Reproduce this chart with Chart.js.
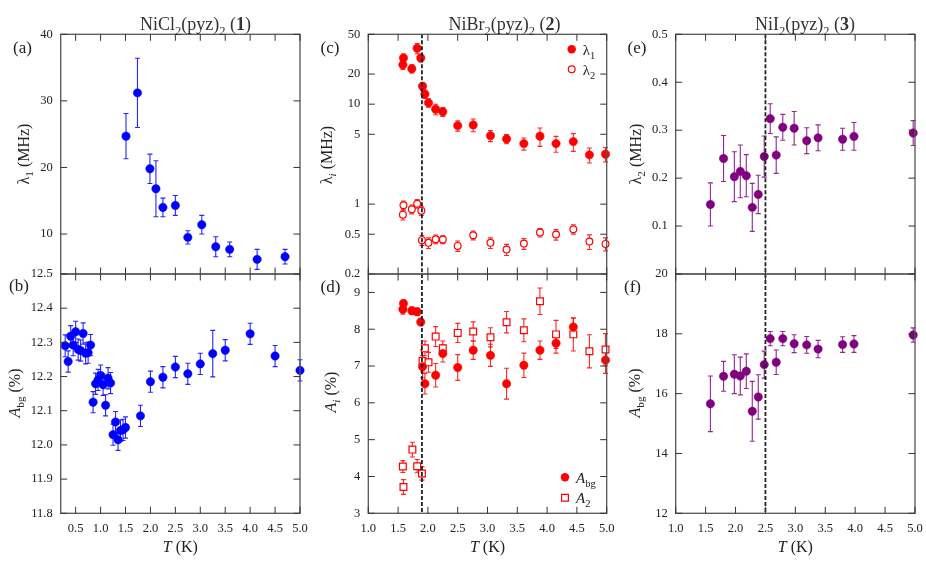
<!DOCTYPE html>
<html>
<head>
<meta charset="utf-8">
<script src="https://cdn.jsdelivr.net/npm/chart.js@4.4.0/dist/chart.umd.min.js"></script>
<style>
  html, body { margin: 0; padding: 0; background: #fff; }
  #wrap { position: relative; width: 926px; height: 567px; }
  #wrap canvas { position: absolute; left: 0; top: 0; }
</style>
</head>
<body>
<div id="wrap">
  <canvas id="pa" width="926" height="567"></canvas>
  <canvas id="pb" width="926" height="567"></canvas>
  <canvas id="pc" width="926" height="567"></canvas>
  <canvas id="pd" width="926" height="567"></canvas>
  <canvas id="pe" width="926" height="567"></canvas>
  <canvas id="pf" width="926" height="567"></canvas>
</div>
<script>
// ---- data ----
// (a) NiCl2(pyz)2 lambda1
const tA = [1.51, 1.74, 1.99, 2.11, 2.25, 2.5, 2.75, 3.03, 3.31, 3.59, 4.14, 4.7];
const lam1A = [24.7, 31.2, 19.8, 16.8, 14.0, 14.3, 9.5, 11.4, 8.1, 7.7, 6.2, 6.6];
const lam1AErr = [3.4, 5.2, 2.2, 4.2, 1.4, 1.5, 1.0, 1.4, 1.5, 1.1, 1.5, 1.1];

// (b) NiCl2(pyz)2 Abg
const tB = [0.29, 0.35, 0.4, 0.45, 0.5, 0.55, 0.6, 0.65, 0.7, 0.75, 0.8, 0.85, 0.9, 0.95, 1.0, 1.05, 1.1, 1.15, 1.2,
            1.25, 1.3, 1.35, 1.4, 1.45, 1.5, 1.8, 2.0, 2.25, 2.5, 2.75, 3.0, 3.25, 3.5, 4.0, 4.5, 5.0];
const abgB = [12.29, 12.244, 12.318, 12.292, 12.331, 12.279, 12.276, 12.326, 12.268, 12.27, 12.292, 12.125, 12.179,
              12.19, 12.203, 12.176, 12.116, 12.195, 12.181, 12.03, 12.067, 12.015, 12.042, 12.044, 12.051, 12.085,
              12.185, 12.198, 12.228, 12.208, 12.237, 12.267, 12.277, 12.325, 12.26, 12.218];
const abgBErr = [0.032, 0.031, 0.031, 0.031, 0.031, 0.031, 0.031, 0.031, 0.031, 0.031, 0.031, 0.031, 0.031, 0.031,
                 0.031, 0.031, 0.031, 0.031, 0.031, 0.031, 0.031, 0.031, 0.031, 0.031, 0.031, 0.031, 0.031, 0.031,
                 0.031, 0.031, 0.031, 0.068, 0.031, 0.031, 0.031, 0.031];

// (c) NiBr2(pyz)2 lambda1, lambda2
const tC1 = [1.58, 1.59, 1.73, 1.82, 1.88, 1.91, 1.95, 2.01, 2.13, 2.25, 2.5, 2.76, 3.05, 3.32, 3.61, 3.88, 4.15, 4.44, 4.71, 4.98];
const lam1C = [24.8, 29.0, 22.6, 36.2, 29.0, 15.1, 12.6, 10.3, 8.9, 8.4, 6.1, 6.2, 4.84, 4.49, 4.03, 4.78, 4.03, 4.22, 3.11, 3.16];
const lam1CErr = [2.5, 2.8, 2.1, 4.3, 2.5, 1.3, 1.2, 1.0, 1.07, 0.85, 0.73, 0.9, 0.62, 0.47, 0.56, 1.0, 0.73, 0.85, 0.53, 0.52];
const tC2 = [1.58, 1.59, 1.73, 1.82, 1.89, 1.9, 2.01, 2.13, 2.25, 2.5, 2.76, 3.05, 3.32, 3.61, 3.88, 4.15, 4.44, 4.71, 4.98];
const lam2C = [0.785, 0.975, 0.889, 1.01, 0.861, 0.436, 0.41, 0.446, 0.443, 0.382, 0.489, 0.41, 0.351, 0.403, 0.519, 0.496, 0.561, 0.422, 0.40];
const lam2CErr = [0.09, 0.1, 0.09, 0.1, 0.09, 0.05, 0.05, 0.045, 0.04, 0.045, 0.05, 0.05, 0.045, 0.05, 0.05, 0.06, 0.06, 0.07, 0.06];

// (d) NiBr2(pyz)2 Abg, A2
const tD1 = [1.58, 1.59, 1.73, 1.82, 1.88, 1.91, 1.95, 2.13, 2.25, 2.5, 2.76, 3.05, 3.32, 3.61, 3.88, 4.15, 4.44, 4.98];
const abgD = [8.54, 8.70, 8.50, 8.475, 8.195, 6.98, 6.52, 6.75, 7.34, 6.96, 7.43, 7.29, 6.52, 7.02, 7.43, 7.62, 8.06, 7.16];
const abgDErr = [0.13, 0.09, 0.1, 0.1, 0.1, 0.3, 0.28, 0.32, 0.23, 0.35, 0.25, 0.3, 0.42, 0.33, 0.25, 0.27, 0.24, 0.36];
const tD2 = [1.58, 1.59, 1.74, 1.82, 1.9, 1.91, 1.95, 2.01, 2.13, 2.25, 2.5, 2.76, 3.05, 3.32, 3.61, 3.88, 4.15, 4.44, 4.71, 4.98];
const a2D = [4.27, 3.715, 4.73, 4.28, 4.08, 7.14, 7.48, 7.1, 7.8, 7.48, 7.9, 7.94, 7.78, 8.19, 7.97, 8.76, 7.86, 7.86, 7.4, 7.45];
const a2DErr = [0.16, 0.2, 0.2, 0.18, 0.18, 0.3, 0.2, 0.27, 0.27, 0.2, 0.26, 0.26, 0.26, 0.29, 0.31, 0.36, 0.38, 0.45, 0.45, 0.43];

// (e), (f) NiI2(pyz)2
const tE = [1.58, 1.8, 1.98, 2.08, 2.18, 2.28, 2.38, 2.48, 2.58, 2.68, 2.79, 2.98, 3.19, 3.38, 3.79, 3.98, 4.97];
const lam2E = [0.145, 0.241, 0.203, 0.214, 0.205, 0.139, 0.166, 0.245, 0.324, 0.248, 0.306, 0.304, 0.278, 0.284, 0.281, 0.287, 0.294];
const lam2EErr = [0.045, 0.048, 0.052, 0.055, 0.044, 0.05, 0.04, 0.043, 0.031, 0.038, 0.027, 0.035, 0.027, 0.027, 0.023, 0.029, 0.026];
const abgF = [15.66, 16.58, 16.65, 16.59, 16.75, 15.41, 15.89, 16.97, 17.84, 17.05, 17.84, 17.67, 17.63, 17.49, 17.64, 17.66, 17.96];
const abgFErr = [0.93, 0.5, 0.65, 0.63, 0.58, 1.0, 0.74, 0.45, 0.24, 0.41, 0.24, 0.3, 0.28, 0.29, 0.26, 0.28, 0.24];

// transition temperatures (dashed lines)
const tcBr = 1.9;
const tcI = 2.5;

// tick values
const xTicks1 = [0.5, 1.0, 1.5, 2.0, 2.5, 3.0, 3.5, 4.0, 4.5, 5.0];
const xTicks2 = [1.0, 1.5, 2.0, 2.5, 3.0, 3.5, 4.0, 4.5, 5.0];
const yTicksA = [10, 20, 30, 40];
const yTicksB = [11.8, 11.9, 12.0, 12.1, 12.2, 12.3, 12.4, 12.5];
const yTicksC = [0.2, 0.5, 1, 5, 10, 20, 50];
const yTicksD = [3, 4, 5, 6, 7, 8, 9];
const yTicksE = [0.1, 0.2, 0.3, 0.4, 0.5];
const yTicksF = [12, 14, 16, 18, 20];

// ---- styling ----
const W = 926, H = 567;
const XH = 24; // height given to the x axis box (tick labels are clipped to it)
const FONT = '"Liberation Serif", "Times New Roman", serif';
const TXT = '#222';
const FRAME = '#555';
const BLUE = '#0000ff', RED = '#ff0000', PURPLE = '#800080';

const col1 = { l: 60.7, r: 300 };
const col2 = { l: 368.3, r: 606.7 };
const col3 = { l: 675.7, r: 915 };
const rowTop = { t: 34.3, b: 274 };
const rowBot = { t: 274, b: 513.3 };

const R = (t, o) => Object.assign({ t: t }, o || {});

function fontOf(r, size) {
  const s = r.sub ? size * 0.7 : size;
  return (r.it ? 'italic ' : '') + (r.b ? 'bold ' : '') + s + 'px ' + FONT;
}

// draws runs of text (italic / bold / subscript), y is the visual middle
function drawRich(ctx, runs, x, y, size, align, rot, color) {
  ctx.save();
  ctx.translate(x, y);
  if (rot) ctx.rotate(-Math.PI / 2);
  ctx.textBaseline = 'alphabetic';
  ctx.textAlign = 'left';
  ctx.fillStyle = color || TXT;
  let w = 0;
  const widths = runs.map(r => { ctx.font = fontOf(r, size); const m = ctx.measureText(r.t).width; w += m; return m; });
  let cx = align === 'center' ? -w / 2 : 0;
  const base = size * 0.35;
  runs.forEach((r, i) => {
    ctx.font = fontOf(r, size);
    ctx.fillText(r.t, cx, base + (r.sub ? size * 0.28 : 0));
    cx += widths[i];
  });
  ctx.restore();
}

const pts = (xs, ys) => xs.map((x, i) => ({ x: x, y: ys[i] }));

function filledSet(xs, ys, errs, color) {
  return {
    data: pts(xs, ys), errors: errs, errColor: color,
    showLine: false, clip: false,
    pointStyle: 'circle', pointRadius: 4.2,
    pointBackgroundColor: color, pointBorderColor: color, pointBorderWidth: 0.5
  };
}

function openSet(xs, ys, errs, color, style, radius) {
  return {
    data: pts(xs, ys), errors: errs, errColor: color,
    showLine: false, clip: false,
    pointStyle: style, pointRadius: radius,
    pointBackgroundColor: '#fff', pointBorderColor: color, pointBorderWidth: 1.2
  };
}

function drawMarker(ctx, kind, x, y, color) {
  ctx.save();
  ctx.strokeStyle = color;
  ctx.fillStyle = color;
  ctx.lineWidth = 1.2;
  ctx.beginPath();
  if (kind === 'filled') { ctx.arc(x, y, 4.2, 0, Math.PI * 2); ctx.fill(); }
  else if (kind === 'open') { ctx.arc(x, y, 3.4, 0, Math.PI * 2); ctx.stroke(); }
  else { ctx.rect(x - 3.4, y - 3.4, 6.8, 6.8); ctx.stroke(); }
  ctx.restore();
}

function deco(p) {
  return {
    id: 'deco_' + p.tag,
    beforeDatasetsDraw(chart) {
      const ctx = chart.ctx, xs = chart.scales.x, ys = chart.scales.y;
      chart.data.datasets.forEach(ds => {
        if (!ds.errors) return;
        ctx.save();
        ctx.strokeStyle = ds.errColor;
        ctx.globalAlpha = 0.85;
        ctx.lineWidth = 1.1;
        ds.data.forEach((pt, j) => {
          const e = ds.errors[j];
          const x = xs.getPixelForValue(pt.x);
          const y1 = ys.getPixelForValue(pt.y - e);
          const y2 = ys.getPixelForValue(pt.y + e);
          ctx.beginPath();
          ctx.moveTo(x, y1); ctx.lineTo(x, y2);
          ctx.moveTo(x - 2.5, y1); ctx.lineTo(x + 2.5, y1);
          ctx.moveTo(x - 2.5, y2); ctx.lineTo(x + 2.5, y2);
          ctx.stroke();
        });
        ctx.restore();
      });
    },
    afterDatasetsDraw(chart) {
      if (p.vline == null) return;
      const ctx = chart.ctx, a = chart.chartArea;
      const x = chart.scales.x.getPixelForValue(p.vline);
      ctx.save();
      ctx.strokeStyle = '#222';
      ctx.lineWidth = 1.8;
      ctx.setLineDash([4, 2]);
      ctx.beginPath();
      ctx.moveTo(x, a.top); ctx.lineTo(x, a.bottom);
      ctx.stroke();
      ctx.restore();
    },
    afterDraw(chart) {
      const ctx = chart.ctx, a = chart.chartArea;
      const xs = chart.scales.x, ys = chart.scales.y;
      const tl = 6.5;
      ctx.save();
      ctx.strokeStyle = FRAME;
      ctx.lineWidth = 1.3;
      ctx.strokeRect(a.left, a.top, a.right - a.left, a.bottom - a.top);
      ctx.beginPath();
      xs.ticks.forEach(t => {
        const x = xs.getPixelForValue(t.value);
        ctx.moveTo(x, a.top); ctx.lineTo(x, a.top + tl);
        ctx.moveTo(x, a.bottom); ctx.lineTo(x, a.bottom - tl);
      });
      ys.ticks.forEach(t => {
        const y = ys.getPixelForValue(t.value);
        ctx.moveTo(a.left, y); ctx.lineTo(a.left + tl, y);
        ctx.moveTo(a.right, y); ctx.lineTo(a.right - tl, y);
      });
      ctx.strokeStyle = '#333';
      ctx.lineWidth = 1;
      ctx.stroke();
      ctx.restore();

      const cx = (a.left + a.right) / 2;
      if (p.title) drawRich(ctx, p.title, p.titleX, 24, 18, 'center', false, '#333');
      drawRich(ctx, [R(p.label)], p.labelPos[0], p.labelPos[1], 17, 'center', false);
      drawRich(ctx, p.yTitle, p.yTitlePos[0], p.yTitlePos[1], 16, 'center', true);
      if (p.xTitle) drawRich(ctx, [R('T', { it: true }), R(' (K)')], cx, 546, 16, 'center', false);
      (p.legend || []).forEach(it => {
        drawMarker(ctx, it.kind, it.x, it.y, it.color);
        drawRich(ctx, it.text, it.x + 11, it.y, 15, 'left', false);
      });
    }
  };
}

function makePanel(id, p) {
  const a = p.area;
  const tickFont = { family: FONT, size: 12.5 };
  return new Chart(document.getElementById(id), {
    type: 'scatter',
    data: { datasets: p.datasets },
    options: {
      responsive: false,
      animation: false,
      events: [],
      layout: { padding: { left: 0, top: a.t, right: W - a.r, bottom: H - a.b - XH } },
      plugins: { legend: { display: false }, tooltip: { enabled: false } },
      scales: {
        x: {
          type: 'linear', min: p.xMin, max: 5.0, bounds: 'data',
          afterBuildTicks: s => { s.ticks = p.xTicks.map(v => ({ value: v })); },
          afterFit: s => { s.height = XH; s.paddingLeft = 0; s.paddingRight = 0; },
          grid: { display: false, drawTicks: false },
          border: { display: false },
          ticks: {
            display: !!p.xTitle, autoSkip: false, maxRotation: 0, padding: 8,
            font: tickFont, color: TXT, callback: v => Number(v).toFixed(1)
          }
        },
        y: {
          type: p.yType || 'linear', min: p.yMin, max: p.yMax, bounds: 'data',
          afterBuildTicks: s => { s.ticks = p.yTicks.map(v => ({ value: v })); },
          afterFit: s => { s.width = a.l; s.paddingTop = 0; s.paddingBottom = 0; },
          grid: { display: false, drawTicks: false },
          border: { display: false },
          ticks: {
            autoSkip: false, padding: 8, font: tickFont, color: TXT,
            callback: v => p.yFmt(Number(v))
          }
        }
      }
    },
    plugins: [deco(p)]
  });
}

const intFmt = v => String(Math.round(v));
const oneDec = v => v.toFixed(1);
const logFmt = v => String(v);

makePanel('pa', {
  tag: 'a', area: Object.assign({}, col1, rowTop), xMin: 0.2, xTicks: xTicks1,
  yMin: 4, yMax: 40, yTicks: yTicksA, yFmt: intFmt,
  datasets: [filledSet(tA, lam1A, lam1AErr, BLUE)],
  title: [R('NiCl'), R('2', { sub: true }), R('(pyz)'), R('2', { sub: true }), R(' ('), R('1', { b: true }), R(')')],
  titleX: 195.5,
  label: '(a)', labelPos: [22.5, 47],
  yTitle: [R('λ'), R('1', { sub: true }), R(' (MHz)')], yTitlePos: [23, 154]
});

makePanel('pb', {
  tag: 'b', area: Object.assign({}, col1, rowBot), xMin: 0.2, xTicks: xTicks1, xTitle: true,
  yMin: 11.8, yMax: 12.5, yTicks: yTicksB, yFmt: oneDec,
  datasets: [filledSet(tB, abgB, abgBErr, BLUE)],
  label: '(b)', labelPos: [19, 285],
  yTitle: [R('A', { it: true }), R('bg', { sub: true }), R(' (%)')], yTitlePos: [14, 393]
});

makePanel('pc', {
  tag: 'c', area: Object.assign({}, col2, rowTop), xMin: 1.0, xTicks: xTicks2,
  yType: 'logarithmic', yMin: 0.2, yMax: 50, yTicks: yTicksC, yFmt: logFmt,
  datasets: [filledSet(tC1, lam1C, lam1CErr, RED), openSet(tC2, lam2C, lam2CErr, RED, 'circle', 3.4)],
  vline: tcBr,
  title: [R('NiBr'), R('2', { sub: true }), R('(pyz)'), R('2', { sub: true }), R(' ('), R('2', { b: true }), R(')')],
  titleX: 504.5,
  label: '(c)', labelPos: [330, 47],
  yTitle: [R('λ'), R('i', { sub: true, it: true }), R(' (MHz)')], yTitlePos: [326, 155],
  legend: [
    { kind: 'filled', x: 571.7, y: 49.3, color: RED, text: [R('λ'), R('1', { sub: true })] },
    { kind: 'open', x: 571.7, y: 69.3, color: RED, text: [R('λ'), R('2', { sub: true })] }
  ]
});

makePanel('pd', {
  tag: 'd', area: Object.assign({}, col2, rowBot), xMin: 1.0, xTicks: xTicks2, xTitle: true,
  yMin: 3, yMax: 9.5, yTicks: yTicksD, yFmt: intFmt,
  datasets: [filledSet(tD1, abgD, abgDErr, RED), openSet(tD2, a2D, a2DErr, RED, 'rect', 4.8)],
  vline: tcBr,
  label: '(d)', labelPos: [330.5, 286],
  yTitle: [R('A', { it: true }), R('i', { sub: true, it: true }), R(' (%)')], yTitlePos: [330, 392],
  legend: [
    { kind: 'filled', x: 565, y: 477.3, color: RED, text: [R('A', { it: true }), R('bg', { sub: true })] },
    { kind: 'square', x: 565, y: 497.7, color: RED, text: [R('A', { it: true }), R('2', { sub: true })] }
  ]
});

makePanel('pe', {
  tag: 'e', area: Object.assign({}, col3, rowTop), xMin: 1.0, xTicks: xTicks2,
  yMin: 0, yMax: 0.5, yTicks: yTicksE, yFmt: oneDec,
  datasets: [filledSet(tE, lam2E, lam2EErr, PURPLE)],
  vline: tcI,
  title: [R('NiI'), R('2', { sub: true }), R('(pyz)'), R('2', { sub: true }), R(' ('), R('3', { b: true }), R(')')],
  titleX: 805,
  label: '(e)', labelPos: [637, 47],
  yTitle: [R('λ'), R('2', { sub: true }), R(' (MHz)')], yTitlePos: [635, 154]
});

makePanel('pf', {
  tag: 'f', area: Object.assign({}, col3, rowBot), xMin: 1.0, xTicks: xTicks2, xTitle: true,
  yMin: 12, yMax: 20, yTicks: yTicksF, yFmt: intFmt,
  datasets: [filledSet(tE, abgF, abgFErr, PURPLE)],
  vline: tcI,
  label: '(f)', labelPos: [632.5, 286],
  yTitle: [R('A', { it: true }), R('bg', { sub: true }), R(' (%)')], yTitlePos: [634, 393]
});
</script>
</body>
</html>
